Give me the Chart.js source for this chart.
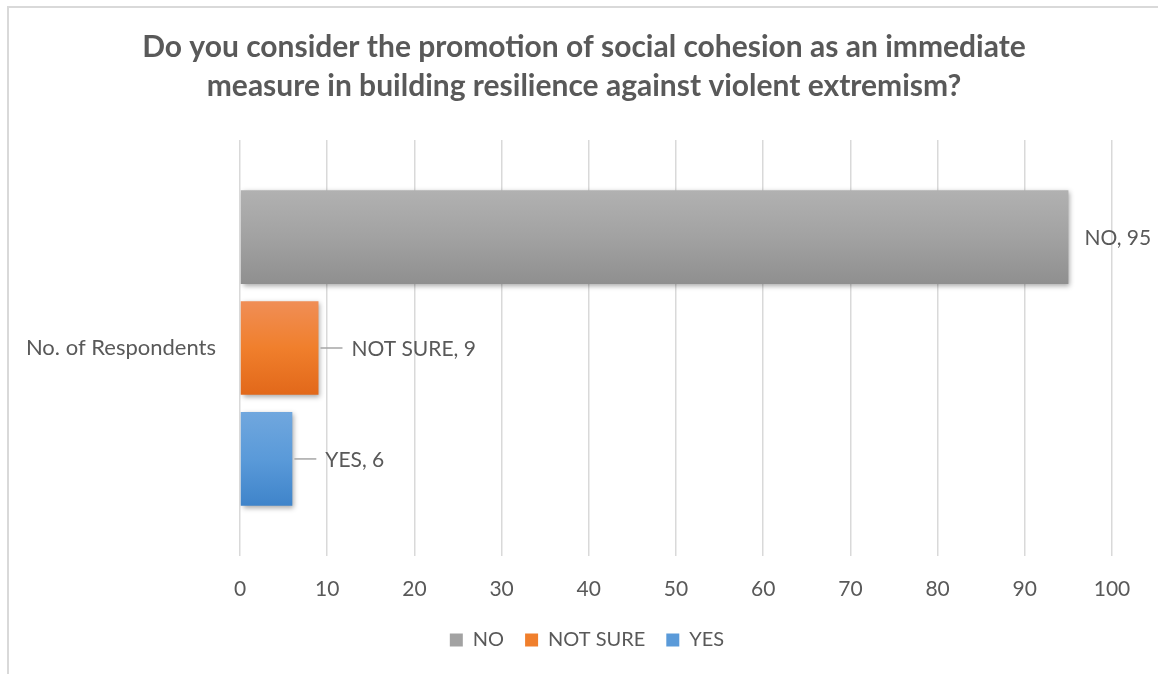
<!DOCTYPE html>
<html>
<head>
<meta charset="utf-8">
<style>
  html, body { margin: 0; padding: 0; background: #ffffff; }
  #wrap { position: relative; width: 1158px; height: 674px; }
  canvas { display: block; }
</style>
<script src="https://cdn.jsdelivr.net/npm/chart.js@4.4.1/dist/chart.umd.min.js"></script>
</head>
<body>
<div id="wrap"><canvas id="chart" width="1158" height="674"></canvas></div>
<script>
// Survey answers: number of respondents per answer
const categories = ['No. of Respondents'];
const seriesNames = ['NO', 'NOT SURE', 'YES'];
const noValues = [95];
const notSureValues = [9];
const yesValues = [6];
const xTicks = [0, 10, 20, 30, 40, 50, 60, 70, 80, 90, 100];

const titleLines = [
  'Do you consider the promotion of social cohesion as an immediate',
  'measure in building resilience against violent extremism?'
];

// gradient stops (top -> bottom) for each series
const palette = {
  'NO':       ['#b1b1b1', '#a2a2a2', '#8f8f8f'],
  'NOT SURE': ['#f08e56', '#f07f2c', '#e2681a'],
  'YES':      ['#70a7de', '#5a9ad9', '#3f84ca']
};

const FONT = 'Lato, "Open Sans", sans-serif';
const TEXT = '#595959';
const GRID = '#d9d9d9';

function barGradient(ctx, top, bottom, stops) {
  const g = ctx.createLinearGradient(0, top, 0, bottom);
  g.addColorStop(0, stops[0]);
  g.addColorStop(0.5, stops[1]);
  g.addColorStop(1, stops[2]);
  return g;
}

// Outer frame lines (left and top edges)
const framePlugin = {
  id: 'frame',
  beforeDraw(chart) {
    const ctx = chart.ctx;
    ctx.save();
    ctx.strokeStyle = GRID;
    ctx.lineWidth = 2;
    ctx.beginPath();
    ctx.moveTo(8, 674);
    ctx.lineTo(8, 7);
    ctx.lineTo(1158, 7);
    ctx.stroke();
    ctx.restore();
  },
  afterLayout(chart) {
    // centre title and legend on the framed area rather than the padded box
    if (chart.titleBlock) {
      chart.titleBlock.left += 15;
      chart.titleBlock.right += 15;
    }
    if (chart.legend) {
      chart.legend.left += 18;
      chart.legend.right += 18;
    }
  }
};

// Gradient fill and soft shadow on each bar
const barStylePlugin = {
  id: 'barStyle',
  beforeDatasetsDraw(chart) {
    chart.data.datasets.forEach((ds, i) => {
      const meta = chart.getDatasetMeta(i);
      meta.data.forEach(bar => {
        const top = bar.y - bar.height / 2;
        const bottom = bar.y + bar.height / 2;
        bar.options.backgroundColor = barGradient(chart.ctx, top, bottom, palette[ds.label]);
      });
    });
    const ctx = chart.ctx;
    ctx.save();
    ctx.shadowColor = 'rgba(0,0,0,0.35)';
    ctx.shadowBlur = 5;
    ctx.shadowOffsetX = 2;
    ctx.shadowOffsetY = 2;
  },
  afterDatasetsDraw(chart) {
    chart.ctx.restore();
  }
};

// Value labels "NAME, value" to the right of each bar, with optional leader line
const valueLabelPlugin = {
  id: 'valueLabels',
  afterDatasetsDraw(chart) {
    const ctx = chart.ctx;
    ctx.save();
    ctx.font = '21px ' + FONT;
    ctx.fillStyle = TEXT;
    ctx.textBaseline = 'middle';
    ctx.textAlign = 'left';
    chart.data.datasets.forEach((ds, i) => {
      const meta = chart.getDatasetMeta(i);
      meta.data.forEach((bar, j) => {
        const text = ds.label + ', ' + ds.data[j];
        let x = bar.x + 16;
        if (ds.leader) {
          ctx.strokeStyle = '#a6a6a6';
          ctx.lineWidth = 1.5;
          ctx.beginPath();
          ctx.moveTo(bar.x + 2, bar.y);
          ctx.lineTo(bar.x + 24, bar.y);
          ctx.stroke();
          x = bar.x + 33;
        }
        ctx.fillText(text, x, bar.y + 1);
      });
    });
    ctx.restore();
  }
};

// Legend entries use the middle colour of each series
function legendLabels(chart) {
  return chart.data.datasets.map((ds, i) => ({
    text: ds.label,
    fillStyle: palette[ds.label][1],
    strokeStyle: 'rgba(0,0,0,0)',
    lineWidth: 0,
    fontColor: TEXT,
    hidden: false,
    datasetIndex: i
  }));
}

const datasets = [
  { label: seriesNames[0], data: noValues, leader: false },
  { label: seriesNames[1], data: notSureValues, leader: true },
  { label: seriesNames[2], data: yesValues, leader: true }
].map(d => Object.assign(d, {
  backgroundColor: palette[d.label][1],
  borderWidth: 0,
  categoryPercentage: 0.80,
  barPercentage: 0.845
}));

new Chart(document.getElementById('chart'), {
  type: 'bar',
  data: { labels: categories, datasets: datasets },
  plugins: [framePlugin, barStylePlugin, valueLabelPlugin],
  options: {
    indexAxis: 'y',
    responsive: false,
    animation: false,
    devicePixelRatio: 1,
    layout: { padding: { top: 28, left: 26, right: 46, bottom: 14 } },
    plugins: {
      title: {
        display: true,
        text: titleLines,
        color: TEXT,
        font: { family: FONT, size: 30, weight: 'bold', lineHeight: 1.3 },
        padding: { top: 0, bottom: 34 }
      },
      legend: {
        position: 'bottom',
        labels: {
          color: TEXT,
          font: { family: FONT, size: 20 },
          boxWidth: 13,
          boxHeight: 13,
          padding: 21,
          generateLabels: legendLabels
        }
      },
      tooltip: { enabled: false }
    },
    scales: {
      x: {
        min: 0,
        max: 100,
        afterBuildTicks(scale) { scale.ticks = xTicks.map(v => ({ value: v })); },
        grid: { color: GRID, lineWidth: 1.5, drawTicks: false },
        border: { display: false },
        ticks: { color: TEXT, font: { family: FONT, size: 21 }, padding: 21 },
        afterFit(scale) { scale.height = 53; }
      },
      y: {
        grid: { display: false, drawTicks: false },
        border: { display: false },
        ticks: { color: TEXT, font: { family: FONT, size: 22 }, padding: 24 },
        afterFit(scale) { scale.width = 214; }
      }
    }
  }
});
</script>
</body>
</html>
